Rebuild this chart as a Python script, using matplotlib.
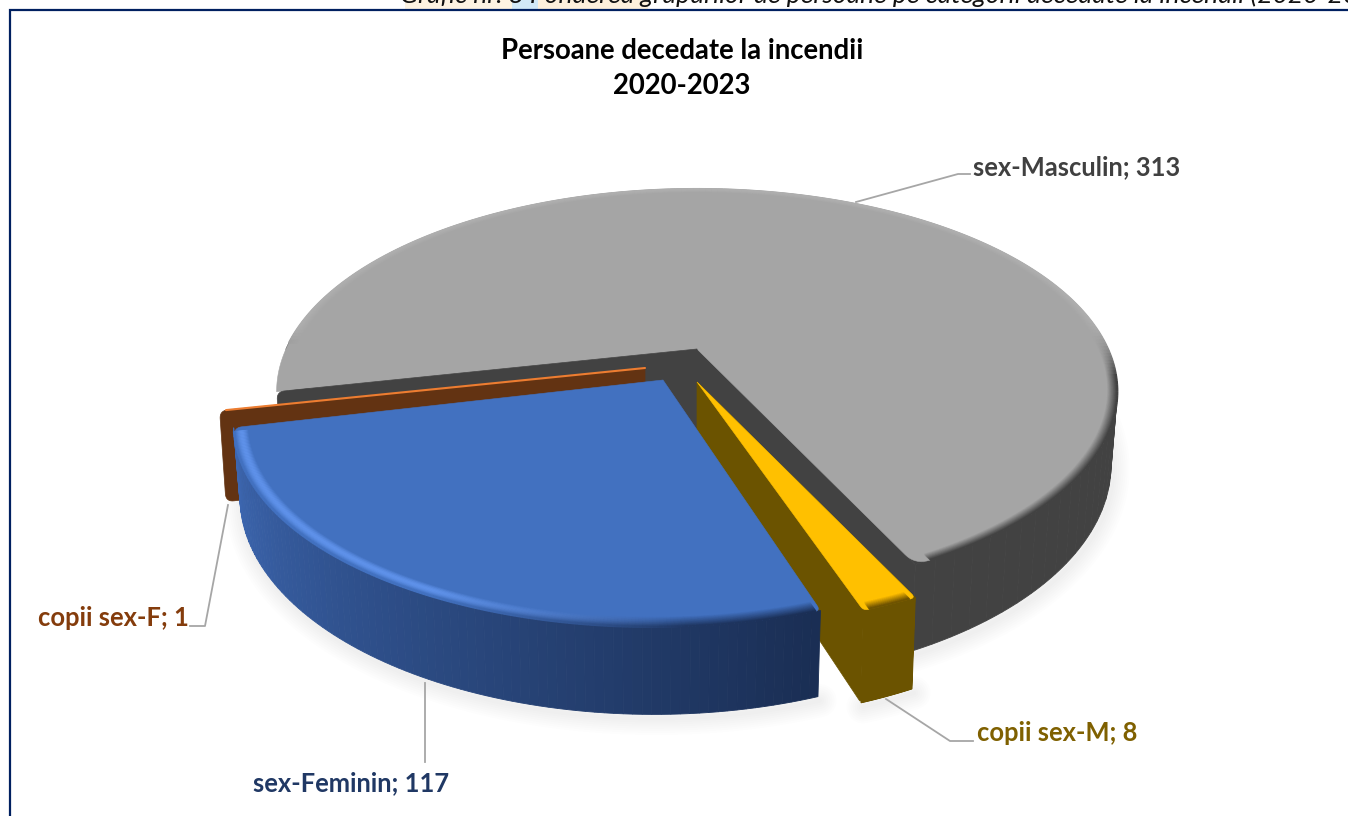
import numpy as np
import matplotlib
matplotlib.use('Agg')
import matplotlib.pyplot as plt
from matplotlib.patches import Polygon, Rectangle
from matplotlib.collections import LineCollection

plt.rcParams['font.family'] = ['Lato', 'DejaVu Sans']

# data, counter-clockwise on screen from the lower right
labels = ['sex-Masculin', 'copii sex-F', 'sex-Feminin', 'copii sex-M']
values = [313, 1, 117, 8]
title_lines = ['Persoane decedate la incendii', '2020-2023']
header = 'Grafic nr. 8 Ponderea grupurilor de persoane pe categorii decedate la incendii (2020-2023)'

top_colors = ['#a5a5a5', '#ed7d31', '#4271c0', '#ffc000']
side_colors = ['#424242', '#633312', '#1a2e54', '#6b5300']
label_colors = ['#404040', '#843c0c', '#203864', '#7f6000']
BLUE_SIDE_LEFT = '#3e69b4'

# perspective of the disc
START = -64.5
K = 0.21
FX = 411.0
FY = 193.6
SHRINK = 0.985
DROP_GRAY = 70.0
DROP_BROWN = 87.0
DROP_BLUE = 69.0
DROP_YELLOW = 74.0


def project(theta, center, r=1.0, drop=None):
    t = np.radians(theta)
    u = r * np.cos(t)
    v = r * np.sin(t)
    w = 1 + K * v
    x = FX * u / w
    y = -FY * v / w
    if drop is not None:
        return center[0] + x * SHRINK, center[1] + y + drop / w
    return center[0] + x, center[1] + y


def arc(a0, a1, center, r=1.0, drop=None, n=160):
    th = np.linspace(a0, a1, n)
    x, y = project(th, center, r, drop)
    return np.column_stack([x, y])


def mix(c0, c1, t):
    a = np.array(matplotlib.colors.to_rgb(c0))
    b = np.array(matplotlib.colors.to_rgb(c1))
    return tuple(a + (b - a) * t)


def curve(p0, ctrl, p1, n=10):
    s = np.linspace(0, 1, n)[:, None]
    p0, ctrl, p1 = np.array(p0), np.array(ctrl), np.array(p1)
    return (1 - s) ** 2 * p0 + 2 * s * (1 - s) * ctrl + s ** 2 * p1


def round_poly(pts, radii):
    # replaces each corner by a small curve
    pts = np.array(pts, dtype=float)
    out = []
    for i in range(len(pts)):
        p = pts[i]
        prev = pts[i - 1]
        nxt = pts[(i + 1) % len(pts)]
        d = radii[i]
        if d == 0:
            out.append(p[None, :])
            continue
        a = p + (prev - p) / np.linalg.norm(prev - p) * d
        b = p + (nxt - p) / np.linalg.norm(nxt - p) * d
        out.append(curve(a, p, b))
    return np.vstack(out)


def shadow(ax, a0, a1, center, drop):
    pts = arc(a0, a1, center, drop=drop)
    for lw in range(3, 27, 3):
        ax.plot(pts[:, 0] + 2, pts[:, 1] + 4, color='black', alpha=0.009, lw=lw,
                solid_capstyle='round', zorder=2)


def side_band(ax, a0, a1, center, c0, c1, z, drop, n=90):
    edges = np.linspace(a0, a1, n + 1)
    for i in range(n):
        top = arc(edges[i], edges[i + 1], center, n=4)
        low = arc(edges[i + 1], edges[i], center, drop=drop, n=4)
        col = mix(c0, c1, i / (n - 1))
        ax.add_patch(Polygon(np.vstack([top, low]), fc=col, ec=col, lw=0.6, zorder=z))


def wall(ax, theta, center, tip, color, z, drop, tip_drop=None, radii=(0, 0, 0, 0)):
    far_top = project(theta, center)
    far_low = project(theta, center, drop=drop)
    tip_low = (tip[0], tip[1] + (tip_drop if tip_drop is not None else drop))
    pts = round_poly([tip, far_top, far_low, tip_low], radii)
    ax.add_patch(Polygon(pts, fc=color, ec=color, lw=0.5, zorder=z))


def top_face(ax, a0, a1, center, tip, color, z, d0=0, d1=0):
    # arc with its two ends rounded into the straight cuts
    pts = arc(a0, a1, center, n=400)
    seg = np.hypot(*np.diff(pts, axis=0).T)
    dist = np.concatenate([[0], np.cumsum(seg)])
    keep = (dist >= d0) & (dist <= dist[-1] - d1)
    inner = pts[keep]
    parts = [np.array([tip], dtype=float)]
    tip = np.array(tip, dtype=float)
    if d0 > 0:
        c = pts[0]
        a = c + (tip - c) / np.linalg.norm(tip - c) * d0
        parts.append(curve(a, c, inner[0]))
    parts.append(inner)
    if d1 > 0:
        c = pts[-1]
        b = c + (tip - c) / np.linalg.norm(tip - c) * d1
        parts.append(curve(inner[-1], c, b))
    ax.add_patch(Polygon(np.vstack(parts), fc=color, ec=color, lw=0.4, zorder=z))


def bevel(ax, a0, a1, center, rim, z, width=0.03, back=None, highlight=None):
    # soft edge between the top face and the side
    top, side = rim
    steps = 16
    th = np.linspace(a0, a1, 240)
    for j in range(steps):
        t = j / (steps - 1)
        r = 1 - width * (1 - t)
        x, y = project(th, center, r)
        pts = np.column_stack([x, y])
        segs = np.stack([pts[:-1], pts[1:]], axis=1)
        mids = th[:-1]
        front = np.clip(0.5 - np.sin(np.radians(mids)) * 3.5, 0, 1)
        cols = []
        for s, a in zip(front, mids):
            if highlight is not None:
                local = mix(BLUE_SIDE_LEFT, side, (a - a0) / (a1 - a0))
                dark = np.array(mix(top, local, t * s))
                w = np.clip((a1 - 15 - a) / 30, 0, 1)
                light = np.array(mix(top, highlight, np.sin(np.pi * min(t * 1.05, 1)) * s))
                c = light * w + dark * (1 - w)
            else:
                c = np.array(mix(top, side, t * s))
            if back is not None and s < 1:
                c = c * s + np.array(mix(top, back, t)) * (1 - s)
            cols.append(tuple(c))
        ax.add_collection(LineCollection(segs, colors=cols, linewidths=1.5, zorder=z))


fig = plt.figure(figsize=(13.48, 8.16), dpi=100)
ax = fig.add_axes([0, 0, 1, 1])
ax.set_xlim(0, 1348)
ax.set_ylim(816, 0)
ax.axis('off')

# strip of the page above the chart frame
for x0, x1, c in [(405, 512, '#fdf3e2'), (512, 538, '#d2e9f7'), (538, 648, '#fdf0dc')]:
    ax.add_patch(Rectangle((x0, 0), x1 - x0, 10, fc=c, ec='none', zorder=0))
ax.text(400, 3, header, fontsize=19, style='italic', color='#111111', va='baseline', ha='left',
        zorder=1, clip_on=True)
ax.add_patch(Rectangle((0, 10), 1348, 806, fc='white', ec='none', zorder=1.5))
ax.plot([1348, 10, 10], [10, 10, 816], color='#002060', lw=1.6, zorder=1.6, solid_joinstyle='miter')

# slice angles from the values
total = sum(values)
angles = [START]
for val in values:
    angles.append(angles[-1] + val * 360.0 / total)

center_gray = (697, 349)
center_brown = (640, 368)
tip_brown = (645, 368)
center_blue = (654, 382)
tip_blue = (663, 380)
center_yellow = (697, 382)

# shadows
shadow(ax, angles[0], 180, center_gray, DROP_GRAY)
shadow(ax, angles[2], angles[3], center_blue, DROP_BLUE)
shadow(ax, angles[3], angles[4], center_yellow, DROP_YELLOW)

# masculin
a0, a1 = angles[0], angles[1]
side_band(ax, a0, 180, center_gray, side_colors[0], side_colors[0], 3, DROP_GRAY)
wall(ax, a0, center_gray, center_gray, side_colors[0], 3.1, DROP_GRAY, tip_drop=92)
top_face(ax, a0, a0 + 10, center_gray, center_gray, side_colors[0], 3.15)
top_face(ax, a0, a1, center_gray, center_gray, top_colors[0], 3.2, d0=14)
bevel(ax, a0 + 2, a1 - 14, center_gray, (top_colors[0], side_colors[0]), 3.3, width=0.022, back='#aeaeae')
wall(ax, a1, center_gray, center_gray, side_colors[0], 3.4, DROP_GRAY, tip_drop=92, radii=(0, 8, 0, 0))

# copii F: only the wall and a thin orange edge are seen
a0, a1 = angles[1], angles[2]
wall(ax, a0, center_brown, tip_brown, side_colors[1], 4, DROP_BROWN, radii=(0, 8, 8, 0))
edge = np.array([tip_brown, project(a0, center_brown)])
edge = np.vstack([edge[0], edge[0] + (edge[1] - edge[0]) * 0.985])
ax.plot(edge[:, 0], edge[:, 1], color=top_colors[1], lw=1.5, zorder=4.2, solid_capstyle='round')

# copii M
a0, a1 = angles[3], angles[4]
side_band(ax, a0, a1, center_yellow, side_colors[3], side_colors[3], 5, DROP_YELLOW)
wall(ax, a0, center_yellow, center_yellow, side_colors[3], 5.1, DROP_YELLOW, radii=(0, 0, 4, 0))
top_face(ax, a0, a1, center_yellow, center_yellow, side_colors[3], 5.15)
top_face(ax, a0, a1, center_yellow, center_yellow, top_colors[3], 5.2, d0=5, d1=5)
bevel(ax, a0 + 0.7, a1 - 0.7, center_yellow, (top_colors[3], side_colors[3]), 5.3, width=0.024)

# feminin
a0, a1 = angles[2], angles[3]
side_band(ax, a0, a1, center_blue, BLUE_SIDE_LEFT, side_colors[2], 6, DROP_BLUE)
top_face(ax, a0, a1, center_blue, tip_blue, top_colors[2], 6.2, d0=8, d1=6)
bevel(ax, a0 + 1, a1 - 0.5, center_blue, (top_colors[2], side_colors[2]), 6.3, width=0.032, highlight='#5f92ea')

# title
ax.text(682, 51, title_lines[0], fontsize=19.8, fontweight='bold', color='black', ha='center', va='center', zorder=8)
ax.text(682, 86, title_lines[1], fontsize=19.8, fontweight='bold', color='black', ha='center', va='center', zorder=8)

# labels and leader lines
label_xy = [(973, 167), (38, 618), (253, 783), (977, 733)]
leaders = [
    ([856, 958, 970], [202, 174, 174]),
    ([228, 205, 190], [505, 626, 626]),
    ([425, 425], [683, 762]),
    ([886, 950, 973], [699, 741, 741]),
]
for i in range(len(values)):
    ax.text(label_xy[i][0], label_xy[i][1], f'{labels[i]}; {values[i]}', fontsize=18.4, fontweight='bold',
            color=label_colors[i], ha='left', va='center', zorder=8)
    ax.plot(leaders[i][0], leaders[i][1], color='#a6a6a6', lw=1.3, zorder=7)

fig.savefig('out.png', dpi=100)
